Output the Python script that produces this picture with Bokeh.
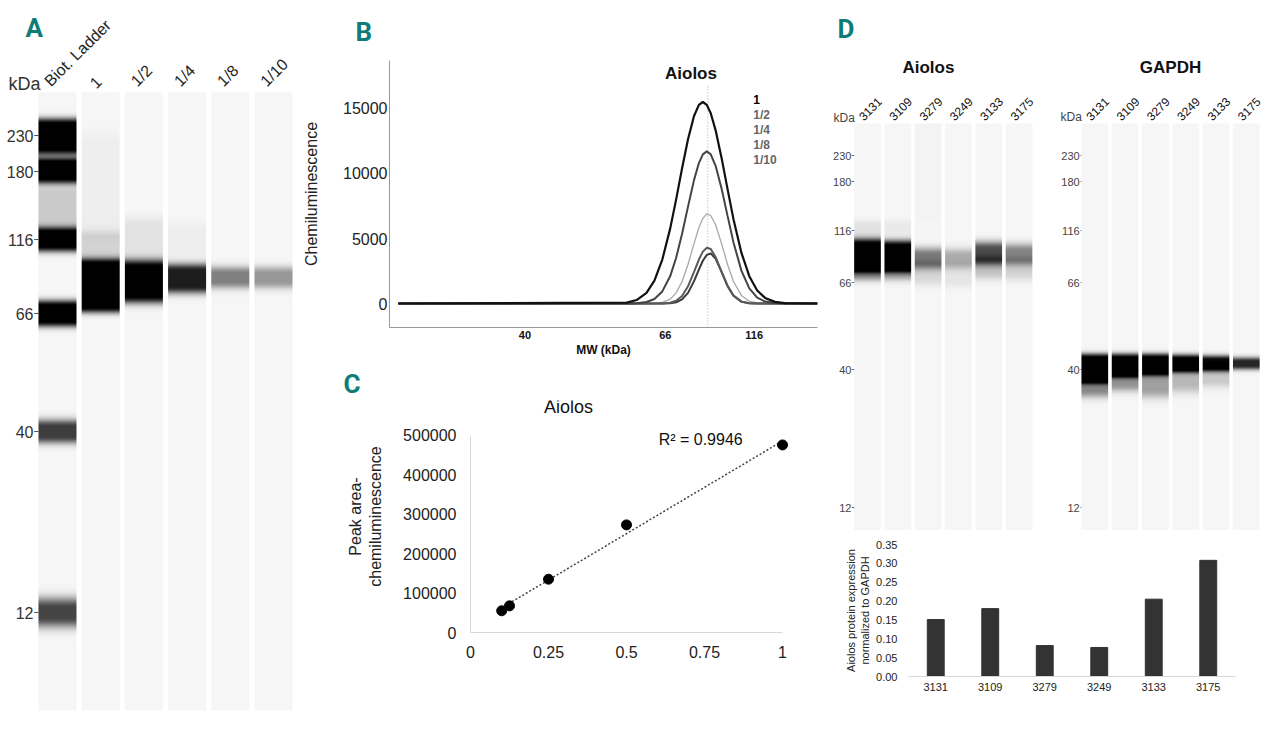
import numpy as np
from bokeh.plotting import figure
from bokeh.layouts import row, column
from bokeh.models import Range1d, FixedTicker, NumeralTickFormatter, LinearColorMapper, Title
from bokeh.core.properties import value
from bokeh.embed import file_html
from bokeh.resources import INLINE

FONT = "Liberation Sans"
LETTER_FONT = "Roboto"
TEAL = "#0e7d77"

# ---------------- data ----------------
# A: capillary lanes, dilution series (positions = height above capillary bottom)
lanes_a = ["Biot. Ladder", "1", "1/2", "1/4", "1/8", "1/10"]
ladder_kda = [230, 180, 116, 66, 40, 12]
ladder_pos_a = [575, 539, 471, 397, 279, 98]
gel_top_a = 618
# (lane, centre, core half-height, softness, darkness)
bands_a = [
    (0, 575, 12, 4, 1.0), (0, 553, 4, 3, 0.35), (0, 539, 7, 4, 1.0),
    (0, 502, 15, 6, 0.18), (0, 471, 7, 4, 1.0), (0, 397, 8, 4, 1.0),
    (0, 279, 5, 5, 0.75), (0, 98, 5, 7, 0.72),
    (1, 425, 22, 4, 1.0), (1, 465, 8, 5, 0.14), (1, 525, 40, 10, 0.035),
    (2, 429, 15, 5, 1.0), (2, 470, 15, 6, 0.08),
    (3, 432, 8, 5, 0.88), (3, 470, 10, 6, 0.035),
    (4, 433, 4, 5, 0.48),
    (5, 433, 4, 5, 0.38),
]

# B: electropherogram (capillary position, ticks labelled in kDa)
mw_pos = [9, 240, 250, 260, 268, 276, 284, 290, 296, 302, 308, 313, 317,
          321, 325, 330, 336, 342, 348, 356, 364, 372, 380, 390, 400, 433]
sig_1 = [0, 72, 266, 820, 1760, 3380, 5780, 8010, 10400, 12640, 14400, 15280, 15500,
         15280, 14630, 13300, 11180, 8800, 6490, 3910, 2100, 1000, 430, 124, 30, 0]
sig_half = [0, 0, 21, 112, 350, 930, 2110, 3520, 5360, 7450, 9470, 10800, 11470,
            11700, 11470, 10570, 8830, 6740, 4700, 2530, 1160, 450, 150, 30, 0, 0]
sig_quarter = [0, 0, 0, 0, 16, 85, 340, 820, 1690, 3000, 4590, 5830, 6550,
               6890, 6770, 6040, 4590, 3000, 1690, 620, 175, 38, 0, 0, 0, 0]
sig_eighth = [0, 0, 0, 0, 0, 8, 60, 208, 584, 1320, 2410, 3380, 3990,
              4290, 4190, 3560, 2410, 1320, 584, 140, 24, 0, 0, 0, 0, 0]
sig_tenth = [0, 0, 0, 0, 0, 0, 23, 95, 312, 820, 1700, 2610, 3290,
             3740, 3850, 3430, 2430, 1370, 610, 145, 23, 0, 0, 0, 0, 0]
mw_tick_pos = [137, 279, 369]
mw_tick_lab = ["40", "66", "116"]
aiolos_peak_pos = 322

# C: standard curve
dilution = [0.1, 0.125, 0.25, 0.5, 1.0]
peak_area = [55000, 67500, 135000, 272500, 475000]

# D: sample lanes and quantification
samples = ["3131", "3109", "3279", "3249", "3133", "3175"]
ladder_pos_d = [375, 349, 300, 248, 161, 23]
gel_top_d = 407
bands_aiolos = [
    (0, 275, 12, 4, 1.0), (0, 258, 3, 4, 0.4), (0, 302, 3, 4, 0.08),
    (1, 274, 11, 4, 1.0), (1, 258, 3, 4, 0.3), (1, 302, 3, 4, 0.05),
    (2, 272, 4, 5, 0.5), (2, 258, 6, 5, 0.12), (2, 360, 40, 10, 0.015),
    (3, 272, 3, 5, 0.3), (3, 256, 6, 5, 0.07),
    (4, 277, 5, 5, 0.68), (4, 263, 5, 5, 0.2),
    (5, 276, 4, 5, 0.45), (5, 262, 5, 5, 0.14),
]
bands_gapdh = [
    (0, 162, 11, 3, 1.0), (0, 145, 5, 5, 0.45),
    (1, 165, 8, 3, 1.0), (1, 150, 4, 5, 0.4),
    (2, 166, 7, 3, 1.0), (2, 149, 8, 6, 0.35),
    (3, 167, 5, 3, 1.0), (3, 152, 6, 6, 0.25),
    (4, 167, 4, 3, 0.95), (4, 155, 5, 5, 0.18),
    (5, 167, 2, 3, 0.85),
]
aiolos_norm = [0.151, 0.180, 0.082, 0.077, 0.205, 0.308]
norm_ticks = [0, 0.05, 0.10, 0.15, 0.20, 0.25, 0.30, 0.35]

# ---------------- helpers ----------------
grays = np.round(246 * (1 - np.linspace(0, 1, 256))).astype(int)
gel_mapper = LinearColorMapper(palette=["#%02x%02x%02x" % (g, g, g) for g in grays], low=0, high=1)


def gel_figure(width, height, x_range, y_range):
    p = figure(width=width, height=height, x_range=x_range, y_range=y_range,
               x_axis_location=None, y_axis_location=None, min_border=0, title=None,
               toolbar_location=None, output_backend="svg", outline_line_color=None)
    p.grid.visible = False
    return p


def draw_lanes(p, centres, bands, top):
    y = np.arange(top) + 0.5
    for i, xc in enumerate(centres):
        v = np.zeros(top)
        for lane, c, hw, soft, dark in bands:
            if lane == i:
                d = np.clip(np.abs(y - c) - hw, 0, None)
                v += dark * np.exp(-d ** 2 / (2.0 * soft ** 2))
        p.image(image=[np.clip(v, 0, 1).reshape(-1, 1)], x=xc - 0.44, y=0,
                dw=0.88, dh=top, color_mapper=gel_mapper)


def style_axis(ax, size="16px", color="#222222"):
    ax.major_label_text_font = FONT
    ax.major_label_text_font_size = size
    ax.major_label_text_color = color
    ax.axis_label_text_font = FONT
    ax.axis_label_text_font_style = "normal"
    ax.axis_label_text_color = color
    ax.major_tick_line_color = None
    ax.minor_tick_line_color = None
    ax.major_tick_out = 0
    ax.major_tick_in = 0


def letter_title(text, offset, standoff):
    return Title(text=text, align="left", offset=offset, standoff=standoff,
                 text_font=LETTER_FONT, text_font_style="bold",
                 text_font_size="26px", text_color=TEAL)


# ---------------- A ----------------
pa = gel_figure(300, 716, Range1d(-1.319, 5.625), Range1d(-6, 710))
lane_x_a = list(range(len(lanes_a)))
pa.segment(x0=-0.54, y0=ladder_pos_a, x1=-0.44, y1=ladder_pos_a, line_color="#555555")
draw_lanes(pa, lane_x_a, bands_a, gel_top_a)
pa.text(x=-0.556, y=ladder_pos_a, text=[str(k) for k in ladder_kda], text_font=value(FONT),
        text_font_size="16px", text_color="#333333", text_align="right", text_baseline="middle")
pa.text(x=[x - 0.1 for x in lane_x_a], y=gel_top_a + 3, text=lanes_a, angle=np.pi / 4,
        text_font=value(FONT), text_font_size="16px", text_color="#222222",
        text_align="left", text_baseline="bottom")
pa.text(x=[-1.134], y=[627], text=["kDa"], text_font=value(FONT), text_font_size="18px",
        text_color="#333333", text_align="left", text_baseline="middle")
pa.text(x=[-0.74], y=[683], text=["A"], text_font=value(LETTER_FONT), text_font_style="bold",
        text_font_size="26px", text_color=TEAL, text_baseline="middle")

# ---------------- B ----------------
pb = figure(width=525, height=365, x_range=Range1d(0, 433), y_range=Range1d(-1846, 18692),
            min_border_left=84, min_border_right=8, min_border_top=60, min_border_bottom=38,
            toolbar_location=None, output_backend="svg", outline_line_color=None,
            title=letter_title("B", -34, 28))
pb.grid.visible = False
pb.segment(x0=[aiolos_peak_pos], y0=[-1846], x1=[aiolos_peak_pos], y1=[16770],
           line_color="#aaaaaa", line_dash="1 2", line_width=1)
for sig, col, lw in [(sig_quarter, "#a8a8a8", 1.3), (sig_tenth, "#3a3a3a", 2),
                     (sig_eighth, "#5a5a5a", 2), (sig_half, "#444444", 2), (sig_1, "#111111", 2.2)]:
    pb.line(mw_pos, sig, line_color=col, line_width=lw)
legend_labels = ["1", "1/2", "1/4", "1/8", "1/10"]
pb.text(x=[368] * 5, y=[15690 - i * 1154 for i in range(5)], text=legend_labels,
        text_font=value(FONT), text_font_style="bold", text_font_size="12px",
        text_color=["#000000"] + ["#666666"] * 4, text_baseline="middle")
pb.text(x=[305], y=[17690], text=["Aiolos"], text_font=value(FONT), text_font_style="bold",
        text_font_size="17px", text_color="#111111", text_align="center", text_baseline="middle")
style_axis(pb.yaxis[0])
pb.yaxis.ticker = FixedTicker(ticks=[0, 5000, 10000, 15000])
pb.yaxis.axis_label = "Chemiluminescence"
pb.yaxis.axis_label_text_font_size = "16px"
pb.yaxis.major_label_standoff = 2
pb.yaxis.axis_label_standoff = 20
pb.yaxis.axis_line_color = "#999999"
style_axis(pb.xaxis[0], size="11px", color="#111111")
pb.xaxis.ticker = FixedTicker(ticks=mw_tick_pos)
pb.xaxis.major_label_overrides = dict(zip(mw_tick_pos, mw_tick_lab))
pb.xaxis.major_label_text_font_style = "bold"
pb.xaxis.axis_label = "MW (kDa)"
pb.xaxis.axis_label_text_font_style = "bold"
pb.xaxis.axis_label_text_font_size = "12px"
pb.xaxis.major_label_standoff = 3
pb.xaxis.axis_label_standoff = 1
pb.xaxis.axis_line_color = "#999999"

# ---------------- C ----------------
pc = figure(width=525, height=351, x_range=Range1d(0, 1.064), y_range=Range1d(0, 587500),
            min_border_left=170, min_border_right=23, min_border_top=32, min_border_bottom=84,
            toolbar_location=None, output_backend="svg", outline_line_color=None,
            title=letter_title("C", -127, 3))
pc.grid.visible = False
slope, icept = np.polyfit(dilution, peak_area, 1)
fit_x = [min(dilution), max(dilution)]
pc.line(fit_x, [slope * x + icept for x in fit_x], line_color="#444444", line_dash="2 2", line_width=1.5)
pc.scatter(dilution, peak_area, size=10, color="#000000")
pc.text(x=[0.314], y=[570000], text=["Aiolos"], text_font=value(FONT), text_font_size="18px",
        text_color="#111111", text_align="center", text_baseline="middle")
pc.text(x=[0.603], y=[490000], text=["R² = 0.9946"], text_font=value(FONT), text_font_size="16px",
        text_color="#111111", text_align="left", text_baseline="middle")
style_axis(pc.yaxis[0])
pc.yaxis.ticker = FixedTicker(ticks=[0, 100000, 200000, 300000, 400000, 500000])
pc.yaxis.formatter = NumeralTickFormatter(format="0")
pc.yaxis.bounds = (0, 500000)
pc.yaxis.axis_label = "Peak area-\nchemiluminescence"
pc.yaxis.axis_label_text_font_size = "16px"
pc.yaxis.major_label_standoff = 14
pc.yaxis.axis_label_standoff = 16
pc.yaxis.axis_line_color = "#d9d9d9"
style_axis(pc.xaxis[0])
c_ticks = [0, 0.25, 0.5, 0.75, 1]
pc.xaxis.ticker = FixedTicker(ticks=c_ticks)
pc.xaxis.major_label_overrides = {0: "0", 0.25: "0.25", 0.5: "0.5", 0.75: "0.75", 1: "1"}
pc.xaxis.bounds = (0, 1)
pc.xaxis.major_label_standoff = 13
pc.xaxis.axis_line_color = "#d9d9d9"

# ---------------- D gels ----------------
pd_ = gel_figure(439, 530, Range1d(-1.386, 13.1), Range1d(0, 530))
lane_x_ai = [i for i in range(6)]
lane_x_ga = [7.5 + i for i in range(6)]
for xr in (-0.52, 7.03):
    pd_.segment(x0=xr, y0=ladder_pos_d, x1=xr + 0.17, y1=ladder_pos_d, line_color="#666666")
draw_lanes(pd_, lane_x_ai, bands_aiolos, gel_top_d)
draw_lanes(pd_, lane_x_ga, bands_gapdh, gel_top_d)
for xr in (-0.53, 7.0):
    pd_.text(x=xr, y=ladder_pos_d, text=[str(k) for k in ladder_kda], text_font=value(FONT),
             text_font_size="11px", text_color="#444444", text_align="right", text_baseline="middle")
pd_.text(x=[x - 0.12 for x in lane_x_ai + lane_x_ga], y=gel_top_d + 2, text=samples + samples,
         angle=np.pi / 4, text_font=value(FONT), text_font_size="12px", text_color="#111111",
         text_align="left", text_baseline="bottom")
pd_.text(x=[-1.12, 6.37], y=[413, 414], text=["kDa", "kDa"], text_font=value(FONT),
         text_font_size="12px", text_color="#444444", text_align="left", text_baseline="middle")
pd_.text(x=[2.01, 10.0], y=[463, 463], text=["Aiolos", "GAPDH"], text_font=value(FONT),
         text_font_style="bold", text_font_size="17px", text_color="#111111",
         text_align="center", text_baseline="middle")
pd_.text(x=[-0.99], y=[502], text=["D"], text_font=value(LETTER_FONT), text_font_style="bold",
         text_font_size="26px", text_color=TEAL, text_baseline="middle")

# ---------------- D bars ----------------
pe = figure(width=439, height=186, x_range=samples, y_range=Range1d(0, 0.35),
            min_border_left=83, min_border_right=29, min_border_top=14, min_border_bottom=40,
            toolbar_location=None, output_backend="svg", outline_line_color=None, title=None)
pe.grid.visible = False
pe.vbar(x=samples, top=aiolos_norm, width=0.31, color="#333333")
style_axis(pe.yaxis[0], size="11px")
pe.yaxis.ticker = FixedTicker(ticks=norm_ticks)
pe.yaxis.formatter = NumeralTickFormatter(format="0.00")
pe.yaxis.axis_line_color = None
pe.yaxis.axis_label = "Aiolos protein expression\nnormalized to GAPDH"
pe.yaxis.axis_label_text_font_size = "11px"
pe.yaxis.major_label_standoff = 11
pe.yaxis.axis_label_standoff = 2
style_axis(pe.xaxis[0], size="11px")
pe.xaxis.axis_line_color = "#d9d9d9"
pe.xaxis.major_label_standoff = 6

layout = row(pa, column(row(pb), row(pc)), column(row(pd_), row(pe)))
open("out.html", "w").write(file_html(layout, INLINE))
